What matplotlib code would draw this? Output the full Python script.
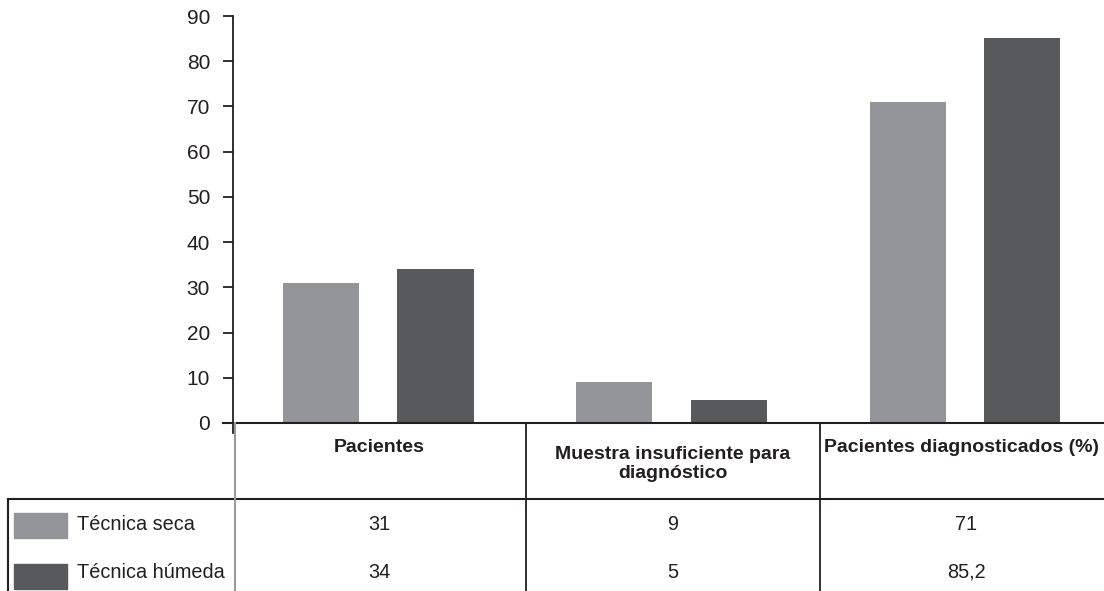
import matplotlib
matplotlib.use("Agg")
import matplotlib.pyplot as plt
from matplotlib.transforms import blended_transform_factory, offset_copy
from matplotlib.patches import Rectangle
import numpy as np

categories = ["Pacientes", "Muestra insuficiente para\ndiagnóstico", "Pacientes diagnosticados (%)"]
series_names = ["Técnica seca", "Técnica húmeda"]
seca = [31, 9, 71]
humeda = [34, 5, 85.2]
seca_labels = ["31", "9", "71"]
humeda_labels = ["34", "5", "85,2"]
yticks = [0, 10, 20, 30, 40, 50, 60, 70, 80, 90]

plt.rcParams["font.family"] = ["Liberation Sans", "DejaVu Sans"]

C_LIGHT = "#939599"
C_DARK = "#58595b"
INK = "#231f20"
FS = 14.3

W, H = 1104, 591
fig = plt.figure(figsize=(W / 100, H / 100), dpi=100)

# main bar axes (extends a little past the right edge)
ax_left, ax_right, ax_bottom, ax_top = 233, 1113, 423, 16
ax = fig.add_axes([ax_left / W, 1 - ax_bottom / H, (ax_right - ax_left) / W, (ax_bottom - ax_top) / H])
x = np.arange(len(categories))
ax.bar(x - 0.2, seca, width=0.26, color=C_LIGHT, zorder=2)
ax.bar(x + 0.19, humeda, width=0.26, color=C_DARK, zorder=2)
ax.set_xlim(-0.5, len(categories) - 0.5)
ax.set_ylim(0, 90)
ax.set_yticks(yticks)
ax.set_yticklabels([str(v) for v in yticks], fontsize=15, color=INK)
ax.tick_params(axis="y", direction="out", length=7.5, width=1.3, color=INK, pad=9)
ax.tick_params(axis="x", bottom=False, labelbottom=False)
for s in ["top", "right", "bottom"]:
    ax.spines[s].set_visible(False)
ax.spines["left"].set_color(INK)
ax.spines["left"].set_linewidth(1.3)

# overlay in pixel coordinates for the data table
tab = fig.add_axes([0, 0, 1, 1], zorder=3)
tab.set_xlim(0, W)
tab.set_ylim(H, 0)
tab.axis("off")
tab.patch.set_alpha(0)
trans = blended_transform_factory(ax.transData, tab.transData)

y_zero, y_head, y_bot = 423, 499, 591
row_y = [525, 572]
swatch_y = [525, 576]

# horizontal rules
tab.plot([223, W], [y_zero, y_zero], color=INK, lw=1.5, clip_on=False)
tab.plot([8, W], [y_head, y_head], color=INK, lw=1.5, clip_on=False)
# y-axis stub below zero
tab.plot([233, 233], [y_zero, 433], color=INK, lw=1.3)
# vertical rules
tab.plot([8, 8], [y_head, y_bot], color=INK, lw=1.5)
tab.plot([235, 235], [y_zero, y_bot], color="#9a9a9a", lw=1.5)
for b in np.arange(0.5, len(categories) - 0.5, 1.0):
    tab.plot([b, b], [y_zero, y_bot], color=INK, lw=1.3, transform=trans)

# column headers (last column sits against the right edge, nudged inward)
for i, cat in enumerate(categories):
    t = trans if i < len(categories) - 1 else offset_copy(trans, fig=fig, x=-5, units="dots")
    tab.text(i, 448 if "\n" not in cat else 464, cat, transform=t, ha="center", va="center",
             fontsize=14, fontweight="bold", color=INK, linespacing=1.2)

# rows: legend key + label + values
for yy, sy, name, color, labels in zip(row_y, swatch_y, series_names, [C_LIGHT, C_DARK],
                                       [seca_labels, humeda_labels]):
    tab.add_patch(Rectangle((14, sy - 12.5), 53, 25, color=color))
    tab.text(77, yy, name, ha="left", va="center", fontsize=FS, color=INK)
    for i, lab in enumerate(labels):
        tab.text(i, yy, lab, transform=trans, ha="center", va="center", fontsize=FS, color=INK)

fig.savefig("out.png", dpi=100)
